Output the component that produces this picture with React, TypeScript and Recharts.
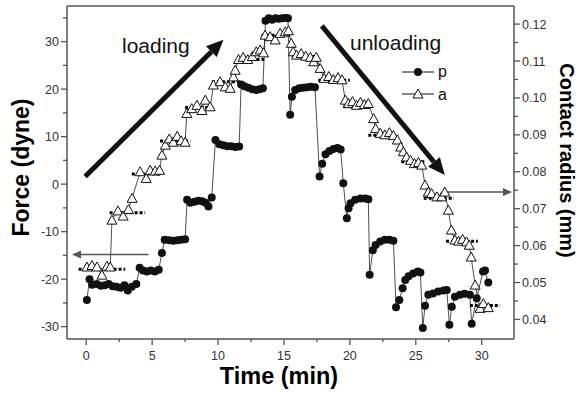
import { ComposedChart, Line, XAxis, YAxis, ReferenceLine } from "recharts";

// force trace p (left axis) – time in min, force in dyne
const P_TIME = [
  0.05, 0.25, 0.45, 0.8, 1.1, 1.4, 1.7, 2.0, 2.3, 2.6, 2.9, 3.15, 3.45, 3.8,
  4.05, 4.3, 4.6, 4.9, 5.2, 5.5,
  5.74, 5.95, 6.3, 6.6, 6.9, 7.2, 7.5,
  7.65, 7.9, 8.2, 8.5, 8.8, 9.05, 9.27, 9.52,
  9.8, 10.1, 10.4, 10.7, 11.0, 11.3, 11.6,
  11.75, 12.0, 12.3, 12.6, 12.9, 13.15, 13.4,
  13.6, 13.85, 14.1, 14.35, 14.6, 14.85, 15.1, 15.3,
  15.47, 15.6, 15.85, 16.15, 16.45, 16.75, 17.05, 17.35,
  17.7, 17.9, 18.15, 18.45, 18.75, 19.05, 19.3,
  19.5, 19.77, 19.9, 20.05, 20.4, 20.8, 21.15, 21.4,
  21.5, 21.74, 21.95, 22.3, 22.65, 23.0, 23.3,
  23.5, 23.75, 24.0, 24.2, 24.45, 24.8, 25.15, 25.35,
  25.53, 25.7, 25.95, 26.3, 26.7, 27.1, 27.35,
  27.55, 27.73, 27.97, 28.35, 28.7, 29.1,
  29.24, 29.62, 30.1, 30.25, 30.5,
];
const P_FORCE = [
  -24.4, -20.0, -21.2, -21.0, -21.4, -21.3, -21.0, -21.5, -21.6, -21.8, -21.3, -22.4, -21.6, -21.0,
  -17.6, -18.2, -18.4, -18.2, -18.4, -18.0,
  -14.5, -11.7, -11.8, -11.9, -11.8, -11.7, -11.6,
  -3.3, -3.9, -3.7, -3.5, -3.6, -3.9, -4.7, -2.8,
  9.3, 8.4, 8.2, 8.0, 8.0, 7.8, 7.9,
  21.0, 20.6, 20.3, 20.0, 19.8, 20.0, 20.2,
  34.4, 34.9, 34.6, 34.9, 34.8, 34.9, 35.0, 34.9,
  14.6, 18.4, 19.8, 20.2, 20.3, 20.4, 20.5, 20.4,
  1.6, 4.3, 6.3, 7.0, 7.4, 7.6, 7.3,
  0.2, -7.2, -5.1, -4.0, -3.3, -3.0, -3.0, -3.2,
  -19.1, -13.9, -12.8, -12.1, -11.7, -11.7, -11.9,
  -25.9, -24.4, -21.9, -20.2, -19.4, -18.8, -18.4, -18.6,
  -30.3, -25.6, -23.3, -23.0, -22.6, -22.4, -22.3,
  -29.6, -25.8, -23.7, -23.3, -23.1, -23.3,
  -29.4, -24.0, -18.4, -18.2, -20.7,
];

// contact radius a (right axis) – time in min, radius in mm
const A_TIME = [
  0.05, 0.43, 0.81, 1.19, 1.57, 1.82,
  1.95, 2.4, 2.8, 3.2, 3.48,
  4.09, 4.55, 4.85, 5.23, 5.56,
  5.74, 6.0, 6.3, 6.6, 6.9, 7.2, 7.5,
  7.63, 8.0, 8.4, 8.78, 9.03, 9.4,
  9.65, 10.16, 10.54, 10.92, 11.17, 11.3,
  11.55, 11.9, 12.25, 12.6, 12.9, 13.2, 13.45,
  13.57, 13.95, 14.33, 14.71, 15.09, 15.34,
  15.55, 15.7, 15.95, 16.3, 16.65, 17.0, 17.25, 17.45,
  17.74, 18.05, 18.4, 18.75, 19.1, 19.4,
  19.65, 19.9, 20.2, 20.5, 20.8, 21.1, 21.4,
  21.8, 21.95, 22.3, 22.65, 23.0, 23.3, 23.6,
  23.85, 24.05, 24.3, 24.6, 24.9, 25.2, 25.45,
  25.7, 25.95, 26.2, 26.6, 26.96, 27.2, 27.47,
  27.7, 27.97, 28.25, 28.55, 28.85, 29.05, 29.2,
  29.5, 29.87, 30.12, 30.5,
];
const A_RADIUS = [
  0.0542, 0.0546, 0.0542, 0.052, 0.0544, 0.0542,
  0.0669, 0.0694, 0.068, 0.0698, 0.0728,
  0.08, 0.0782, 0.0804, 0.0802, 0.0804,
  0.0845, 0.0872, 0.0889, 0.088, 0.0896, 0.0884, 0.088,
  0.0958, 0.0971, 0.098, 0.0966, 0.0994, 0.0976,
  0.1035, 0.1044, 0.103, 0.1026, 0.1057, 0.1075,
  0.1104, 0.111, 0.1104, 0.1112, 0.1125, 0.113, 0.1122,
  0.117, 0.1166, 0.1157, 0.1175, 0.1179, 0.1182,
  0.1148, 0.1125, 0.1116, 0.112, 0.1113, 0.111, 0.1098, 0.111,
  0.108, 0.1053, 0.1058, 0.105, 0.1055, 0.1049,
  0.0994, 0.0985, 0.099, 0.098, 0.0988, 0.0982, 0.0985,
  0.0944, 0.0917, 0.0904, 0.09, 0.0906, 0.0898, 0.0886,
  0.0867, 0.0854, 0.084, 0.0831, 0.0822, 0.0825, 0.0818,
  0.0764, 0.0745, 0.0741, 0.0732, 0.0732, 0.0745, 0.0696,
  0.0642, 0.0615, 0.0612, 0.0617, 0.061, 0.0601, 0.0569,
  0.0493, 0.043, 0.0443, 0.0432,
];

// dashed mean levels of the radius at each step
const LEVEL_START = [-0.58, 1.77, 3.46, 5.6, 7.5, 9.53, 11.4, 13.3, 15.6, 17.6, 19.5, 21.4, 23.9, 25.6, 27.3, 29.1];
const LEVEL_END = [2.96, 4.47, 5.74, 7.9, 9.78, 11.7, 13.5, 15.5, 17.6, 20.0, 21.7, 23.7, 25.7, 27.9, 29.7, 31.4];
const LEVEL_RADIUS = [0.0536, 0.0689, 0.0794, 0.0883, 0.0974, 0.1044, 0.1104, 0.117, 0.1112, 0.1048, 0.0976, 0.0899, 0.0827, 0.0728, 0.0612, 0.0438];

const X_TICKS = [0, 2.5, 5, 7.5, 10, 12.5, 15, 17.5, 20, 22.5, 25, 27.5, 30];
const FORCE_TICKS = [-30, -25, -20, -15, -10, -5, 0, 5, 10, 15, 20, 25, 30, 35];
const RADIUS_TICKS = [0.04, 0.045, 0.05, 0.055, 0.06, 0.065, 0.07, 0.075, 0.08, 0.085, 0.09, 0.095, 0.1, 0.105, 0.11, 0.115, 0.12];

const X_DOMAIN = [-1.46, 32.45];
const FORCE_DOMAIN = [-32.6, 37.5];
const RADIUS_DOMAIN = [0.0347, 0.1249];

const pData = P_TIME.map((t, i) => ({ t, f: P_FORCE[i] }));
const aData = A_TIME.map((t, i) => ({ t, r: A_RADIUS[i] }));

const FONT = '"Liberation Sans", Arial, Helvetica, sans-serif';
const AXIS = "#555";
const TICK_TEXT = "#333";

const BottomTick = (props: any) => {
  const { x, y, payload } = props;
  const major = payload.value % 5 === 0;
  return (
    <g>
      <line x1={x} y1={y} x2={x} y2={y + (major ? 6 : 3)} stroke={AXIS} strokeWidth={1.3} />
      {major && (
        <text x={x} y={y + 20.5} textAnchor="middle" fontSize={12.5} fill={TICK_TEXT} fontFamily={FONT}>
          {payload.value}
        </text>
      )}
    </g>
  );
};

const LeftTick = (props: any) => {
  const { x, y, payload } = props;
  const major = payload.value % 10 === 0;
  return (
    <g>
      <line x1={x} y1={y} x2={x - (major ? 6 : 4)} y2={y} stroke={AXIS} strokeWidth={1.3} />
      {major && (
        <text x={x - 8} y={y + 4.5} textAnchor="end" fontSize={12.5} fill={TICK_TEXT} fontFamily={FONT}>
          {payload.value}
        </text>
      )}
    </g>
  );
};

const RightTick = (props: any) => {
  const { x, y, payload } = props;
  const major = Math.round(payload.value * 1000) % 10 === 0;
  return (
    <g>
      <line x1={x} y1={y} x2={x + (major ? 6 : 4)} y2={y} stroke={AXIS} strokeWidth={1.3} />
      {major && (
        <text x={x + 8} y={y + 4.5} textAnchor="start" fontSize={12.5} fill={TICK_TEXT} fontFamily={FONT}>
          {payload.value.toFixed(2)}
        </text>
      )}
    </g>
  );
};

const Circle = (props: any) => {
  const { cx, cy, index } = props;
  return <circle key={"p" + index} cx={cx} cy={cy} r={4} fill="#111" />;
};

const Triangle = (props: any) => {
  const { cx, cy, index } = props;
  return (
    <polygon
      key={"a" + index}
      points={`${cx},${cy - 5} ${cx - 5},${cy + 4} ${cx + 5},${cy + 4}`}
      fill="#fff"
      stroke="#111"
      strokeWidth={1}
    />
  );
};

const makeArrow = (color: string, width: number, head: number) => (props: any) => {
  const { x1, y1, x2, y2 } = props;
  const dx = x2 - x1;
  const dy = y2 - y1;
  const len = Math.sqrt(dx * dx + dy * dy);
  const ux = dx / len;
  const uy = dy / len;
  const bx = x2 - ux * head;
  const by = y2 - uy * head;
  const hw = head * 0.45;
  return (
    <g>
      <line x1={x1} y1={y1} x2={bx} y2={by} stroke={color} strokeWidth={width} />
      <polygon
        points={`${x2},${y2} ${bx - uy * hw},${by + ux * hw} ${bx + uy * hw},${by - ux * hw}`}
        fill={color}
      />
    </g>
  );
};

const BigArrow = makeArrow("#111", 5, 17);
const SmallArrow = makeArrow("#555", 1.5, 9);

export default function App() {
  return (
    <div style={{ position: "absolute", left: 0, top: 0, width: 579, height: 393, background: "#fff", fontFamily: FONT }}>
      <ComposedChart width={579} height={393} margin={{ top: 6, right: 5, bottom: 0, left: 7 }} style={{ fontFamily: FONT }}>
        <XAxis
          dataKey="t"
          type="number"
          domain={X_DOMAIN}
          allowDataOverflow
          ticks={X_TICKS}
          interval={0}
          tickSize={0}
          tickMargin={0}
          tickLine={false}
          tick={BottomTick}
          axisLine={{ stroke: AXIS, strokeWidth: 1.5 }}
          height={54}
        />
        <YAxis
          yAxisId="left"
          type="number"
          domain={FORCE_DOMAIN}
          allowDataOverflow
          ticks={FORCE_TICKS}
          interval={0}
          tickSize={0}
          tickMargin={0}
          tickLine={false}
          tick={LeftTick}
          axisLine={{ stroke: AXIS, strokeWidth: 1.5 }}
          width={60}
        />
        <YAxis
          yAxisId="right"
          orientation="right"
          type="number"
          domain={RADIUS_DOMAIN}
          allowDataOverflow
          ticks={RADIUS_TICKS}
          interval={0}
          tickSize={0}
          tickMargin={0}
          tickLine={false}
          tick={RightTick}
          axisLine={{ stroke: AXIS, strokeWidth: 1.5 }}
          width={60}
        />
        <ReferenceLine yAxisId="left" y={FORCE_DOMAIN[1]} stroke={AXIS} strokeWidth={1.5} />

        {LEVEL_RADIUS.map((r, i) => (
          <ReferenceLine
            key={"lv" + i}
            yAxisId="right"
            segment={[{ x: LEVEL_START[i], y: r }, { x: LEVEL_END[i], y: r }]}
            stroke="#000"
            strokeWidth={3}
            strokeDasharray="3 2"
            ifOverflow="visible"
          />
        ))}

        <Line
          yAxisId="right"
          data={aData}
          dataKey="r"
          type="linear"
          stroke="#222"
          strokeWidth={0.8}
          dot={Triangle}
          activeDot={false}
          isAnimationActive={false}
        />
        <Line
          yAxisId="left"
          data={pData}
          dataKey="f"
          type="linear"
          stroke="#222"
          strokeWidth={0.8}
          dot={Circle}
          activeDot={false}
          isAnimationActive={false}
        />

        <ReferenceLine yAxisId="left" segment={[{ x: -0.08, y: 1.6 }, { x: 10.41, y: 30.4 }]} shape={BigArrow} ifOverflow="visible" />
        <ReferenceLine yAxisId="left" segment={[{ x: 17.87, y: 33.3 }, { x: 27.2, y: 1.9 }]} shape={BigArrow} ifOverflow="visible" />
        <ReferenceLine yAxisId="left" segment={[{ x: 4.72, y: -14.8 }, { x: -1.08, y: -14.8 }]} shape={SmallArrow} ifOverflow="visible" />
        <ReferenceLine yAxisId="right" segment={[{ x: 27.2, y: 0.0745 }, { x: 32.3, y: 0.0745 }]} shape={SmallArrow} ifOverflow="visible" />
      </ComposedChart>

      <svg width={579} height={393} style={{ position: "absolute", left: 0, top: 0, pointerEvents: "none" }} fontFamily={FONT}>
        <text x={122} y={53} fontSize={21} fill="#111">loading</text>
        <text x={350} y={50} fontSize={21} fill="#111">unloading</text>

        <line x1={402} y1={72} x2={434} y2={72} stroke="#111" strokeWidth={1} />
        <circle cx={418} cy={72} r={4} fill="#111" />
        <text x={438} y={77} fontSize={16} fill="#111">p</text>
        <line x1={402} y1={94} x2={434} y2={94} stroke="#111" strokeWidth={1} />
        <polygon points="418,89 413,98 423,98" fill="#fff" stroke="#111" strokeWidth={1} />
        <text x={438} y={99.5} fontSize={16} fill="#111">a</text>

        <text x={279} y={384} fontSize={23.5} fontWeight="bold" textAnchor="middle" fill="#000">Time (min)</text>
        <text transform="translate(28.5,167.5) rotate(-90)" fontSize={23} fontWeight="bold" textAnchor="middle" fill="#000">Force (dyne)</text>
        <text transform="translate(560,160.5) rotate(90)" fontSize={20} fontWeight="bold" textAnchor="middle" fill="#000">Contact radius (mm)</text>
      </svg>
    </div>
  );
}
